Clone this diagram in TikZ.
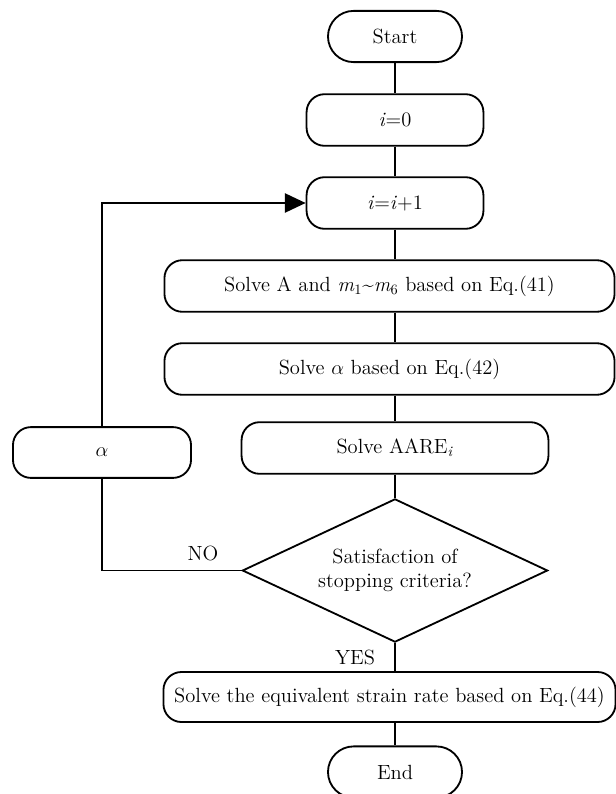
\documentclass[tikz,border=0pt]{standalone}
\usepackage{amsmath}
\usepackage{tikz}
\usetikzlibrary{arrows.meta,shapes.geometric}

\begin{document}
\begin{tikzpicture}[x=0.025cm,y=-0.025cm,line width=1.3pt,
  font=\fontsize{14.6}{17.5}\selectfont,>={Triangle[length=5.2mm,width=4.8mm]},
  term/.style={draw,rounded corners=0.64cm,minimum width=3.35cm,minimum height=1.28cm,inner sep=0pt},
  proc/.style={draw,rounded corners=0.45cm,minimum height=1.29cm,inner sep=0pt},
  decide/.style={draw,diamond,aspect=2.13,minimum width=7.63cm,minimum height=3.58cm,inner sep=0pt,align=center}]
\useasboundingbox (0,0) rectangle (616,794);
% main column
\node[term] (start) at (395,36.5) {Start};
\node[proc,minimum width=4.42cm] (izero) at (395,120) {\textit{i}=0};
\node[proc,minimum width=4.42cm] (iinc) at (395,203) {\textit{i}=\textit{i}+1};
\node[proc,minimum width=11.25cm] (solveA) at (389.5,286) {Solve A and \textit{m}\textsubscript{1}\textasciitilde\textit{m}\textsubscript{6} based on Eq.(41)};
\node[proc,minimum width=11.25cm] (solvealpha) at (389.5,369) {Solve $\alpha$ based on Eq.(42)};
\node[proc,minimum width=7.67cm] (aare) at (395,448) {Solve AARE\textsubscript{\textit{i}}};
\node[decide] (crit) at (395,570.5) {Satisfaction of\\stopping criteria?};
\node[proc,minimum width=11.3cm,minimum height=1.25cm] (strain) at (389.5,697) {Solve the equivalent strain rate based on Eq.(44)};
\node[term] (end) at (395,772) {End};
% loop back
\node[proc,minimum width=4.45cm,minimum height=1.27cm] (alpha) at (102,452.5) {$\alpha$};
\node (no) at (203,553) {NO};
\node (yes) at (355,657) {YES};

\draw (start) -- (izero);
\draw (izero) -- (iinc);
\draw (iinc.south) -- (iinc.south |- solveA.north);
\draw (solveA.south -| iinc.south) -- (solvealpha.north -| iinc.south);
\draw (solvealpha.south -| iinc.south) -- (aare.north -| iinc.south);
\draw (aare) -- (crit);
\draw (crit.south) -- (crit.south |- strain.north);
\draw (strain.south -| end.north) -- (end);
\draw (crit.west) -| (alpha.south);
\draw[->] (alpha.north) |- (iinc.west);
\end{tikzpicture}
\end{document}
